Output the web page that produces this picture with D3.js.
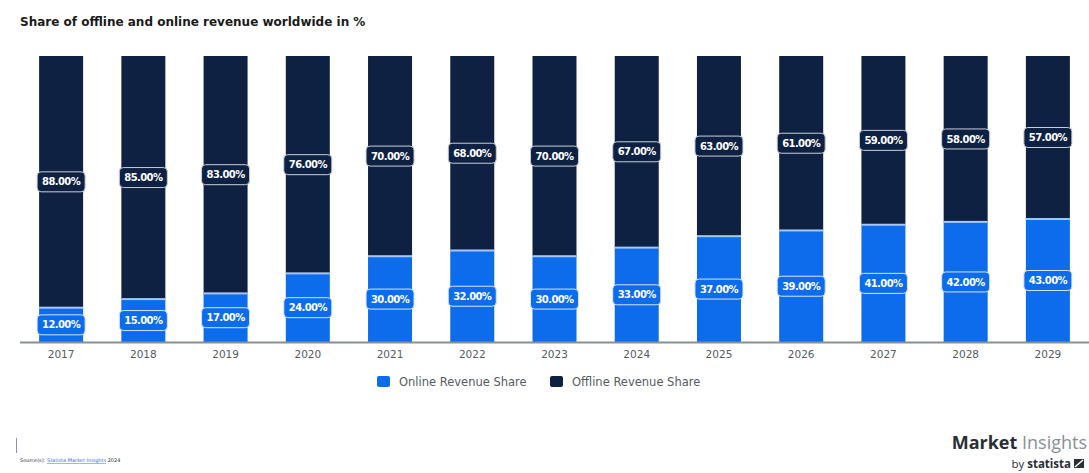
<!DOCTYPE html>
<html>
<head>
<meta charset="utf-8">
<script src="https://cdn.jsdelivr.net/npm/d3@7"></script>
<style>
  html, body { margin: 0; padding: 0; background: #ffffff; }
  svg { display: block; }
</style>
</head>
<body>
<svg id="chart" width="1089" height="473"></svg>
<script>
// Yearly revenue split, in percent
const years = ["2017","2018","2019","2020","2021","2022","2023","2024","2025","2026","2027","2028","2029"];
const onlineShare  = [12, 15, 17, 24, 30, 32, 30, 33, 37, 39, 41, 42, 43];
const offlineShare = [88, 85, 83, 76, 70, 68, 70, 67, 63, 61, 59, 58, 57];
const seriesNames  = ["Online Revenue Share", "Offline Revenue Share"];

const colOnline = "#0d6cec";
const colOffline = "#0e2142";
const colSep = "#a8c7f4";

const svg = d3.select("#chart");

// Title
svg.append("text")
  .attr("x", 20).attr("y", 26)
  .attr("font-family", "DejaVu Sans, sans-serif")
  .attr("font-weight", "bold")
  .attr("font-size", 12)
  .attr("fill", "#1a1a1a")
  .text("Share of offline and online revenue worldwide in %");

// Scales
const x = d3.scaleBand().domain(years).range([20, 1089]).paddingInner(0.465).paddingOuter(0.2325);
const y = d3.scaleLinear().domain([0, 100]).range([342, 56]);

const rows = years.map((yr, i) => ({ year: yr, online: onlineShare[i], offline: offlineShare[i] }));
const stack = d3.stack().keys(["online", "offline"]);
const layers = stack(rows);
const colors = { online: colOnline, offline: colOffline };

const g = svg.append("g");

// Stacked bars
layers.forEach(layer => {
  g.selectAll(null).data(layer).enter().append("rect")
    .attr("x", d => x(d.data.year))
    .attr("width", x.bandwidth())
    .attr("y", d => y(d[1]))
    .attr("height", d => y(d[0]) - y(d[1]))
    .attr("fill", colors[layer.key]);
});

// Light separator between the two segments
g.selectAll(null).data(layers[0]).enter().append("rect")
  .attr("x", d => x(d.data.year))
  .attr("width", x.bandwidth())
  .attr("y", d => y(d[1]) - 1)
  .attr("height", 2)
  .attr("fill", colSep);

// Value labels centered in each segment
const fmt = v => v.toFixed(2) + "%";
layers.forEach(layer => {
  const lbl = g.selectAll(null).data(layer).enter().append("g")
    .attr("transform", d => `translate(${x(d.data.year) + x.bandwidth() / 2},${y((d[0] + d[1]) / 2)})`);
  lbl.append("rect")
    .attr("x", -24).attr("y", -10)
    .attr("width", 48).attr("height", 20)
    .attr("rx", 4)
    .attr("fill", colors[layer.key])
    .attr("stroke", layer.key === "online" ? "#d6e5fb" : "#c9cfd9")
    .attr("stroke-width", 1);
  lbl.append("text")
    .attr("text-anchor", "middle")
    .attr("dy", "0.36em")
    .attr("font-family", "DejaVu Sans, sans-serif")
    .attr("font-weight", "bold")
    .attr("font-size", 10)
    .attr("letter-spacing", -0.6)
    .attr("fill", "#ffffff")
    .text(d => fmt(d[1] - d[0]));
});

// Baseline axis
const axis = d3.axisBottom(x).tickSize(0).tickPadding(9);
const axG = svg.append("g").attr("transform", `translate(0,${y(0)})`).call(axis);
axG.select(".domain").remove();
axG.append("line").attr("x1", 20).attr("x2", 1089).attr("y1", 0.5).attr("y2", 0.5)
  .attr("stroke", "#8a8f96").attr("stroke-width", 2);
axG.selectAll(".tick text")
  .attr("font-family", "DejaVu Sans, sans-serif")
  .attr("font-size", 10.5)
  .attr("fill", "#555a60");

// Legend
const legend = svg.append("g").attr("transform", "translate(377,382)");
const legItems = [
  { name: seriesNames[0], color: colOnline, x: 0 },
  { name: seriesNames[1], color: colOffline, x: 173 }
];
legItems.forEach(it => {
  const lg = legend.append("g").attr("transform", `translate(${it.x},0)`);
  lg.append("rect").attr("x", 0).attr("y", -6).attr("width", 13).attr("height", 11).attr("rx", 2).attr("fill", it.color);
  lg.append("text").attr("x", 22).attr("dy", "0.36em")
    .attr("font-family", "DejaVu Sans, sans-serif")
    .attr("font-size", 11.5)
    .attr("fill", "#555a60")
    .text(it.name);
});

// Source note
svg.append("line").attr("x1", 16.5).attr("x2", 16.5).attr("y1", 438).attr("y2", 453)
  .attr("stroke", "#8a93a8").attr("stroke-width", 1);
const src = svg.append("text").attr("x", 20).attr("y", 462)
  .attr("font-family", "DejaVu Sans, sans-serif").attr("font-size", 5);
src.append("tspan").attr("fill", "#333").text("Source(s): ");
src.append("tspan").attr("fill", "#3a6fd8").attr("text-decoration", "underline").text("Statista Market Insights");
src.append("tspan").attr("fill", "#333").text(" 2024");

// Brand mark
const brand = svg.append("text").attr("x", 1087).attr("y", 449).attr("text-anchor", "end")
  .attr("font-family", "Open Sans, DejaVu Sans, sans-serif").attr("font-size", 18);
brand.append("tspan").attr("font-weight", "bold").attr("fill", "#2a2e35").text("Market");
brand.append("tspan").attr("fill", "#8a8f96").text(" Insights");

const by = svg.append("text").attr("x", 1071).attr("y", 468).attr("text-anchor", "end")
  .attr("font-family", "Open Sans, DejaVu Sans, sans-serif").attr("font-size", 11.5);
by.append("tspan").attr("fill", "#2a2e35").text("by ");
by.append("tspan").attr("font-weight", "bold").attr("fill", "#2a2e35").text("statista");
svg.append("rect").attr("x", 1074).attr("y", 459).attr("width", 10).attr("height", 9).attr("fill", "#2a2e35");
svg.append("path").attr("d", "M1075,467 L1083,460").attr("stroke", "#ffffff").attr("stroke-width", 1.5);
</script>
</body>
</html>
